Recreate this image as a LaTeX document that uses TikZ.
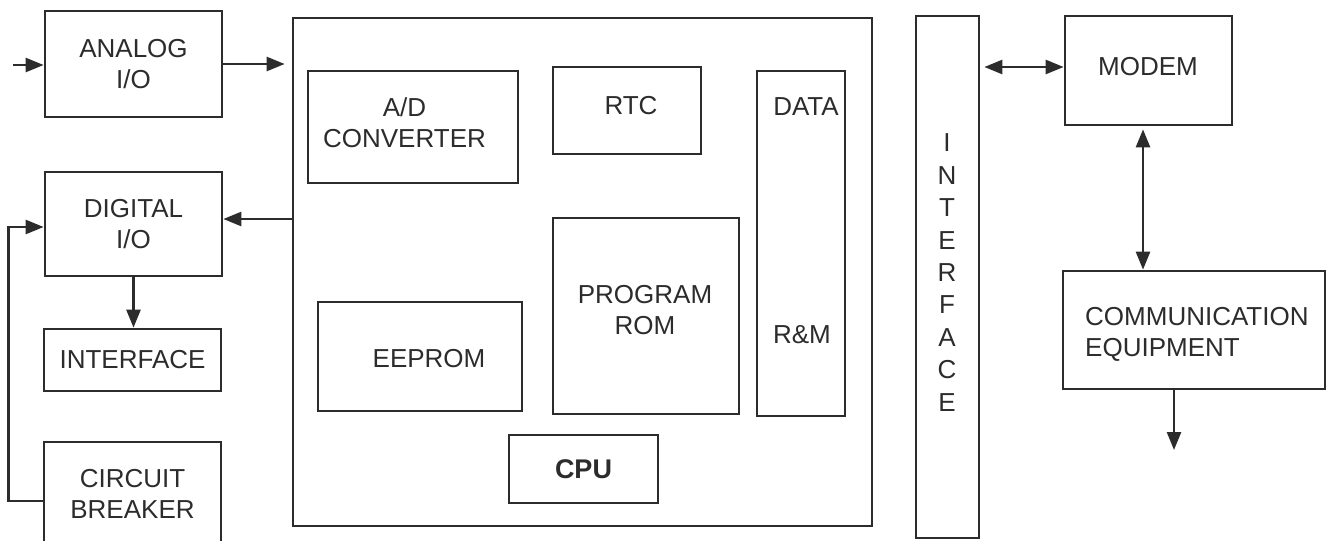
\documentclass[tikz,border=0pt]{standalone}
\usepackage{fontspec}
\setmainfont{Liberation Sans}
\usetikzlibrary{arrows.meta}

\definecolor{ink}{HTML}{2C2C2C}

\tikzset{
  box/.style={draw=ink, line width=2.7pt, inner sep=0pt, align=center,
    text=ink, font=\fontsize{26}{31}\selectfont},
  lbl/.style={inner sep=0pt, align=center, text=ink,
    font=\fontsize{26}{31}\selectfont},
  arr/.style={draw=ink, line width=2.5pt,
    -{Triangle[length=18pt,width=14pt]}},
  darr/.style={draw=ink, line width=2.5pt,
    {Triangle[length=18pt,width=14pt]}-{Triangle[length=18pt,width=14pt]}},
}

\begin{document}
\begin{tikzpicture}[x=1pt, y=-1pt]
\clip (0,0) rectangle (1326,541);
\fill[white] (0,0) rectangle (1326,541);

% ---------- left column: I/O blocks ----------
\node[box, minimum width=177, minimum height=106] (analog) at (133.5,64) {ANALOG\\I/O};
\node[box, minimum width=177, minimum height=104] (digital) at (133.5,224) {DIGITAL\\I/O};
\node[box, minimum width=177, minimum height=62] (iface1) at (132.5,360) {INTERFACE};
\node[box, minimum width=177, minimum height=104] (breaker) at (132.5,494) {CIRCUIT\\BREAKER};

% ---------- relay unit ----------
\node[box, minimum width=579, minimum height=508] (main) at (582.5,272) {};
\node[box, minimum width=210, minimum height=112] (adc) at (413,127) {};
\node[lbl] (adctext) at (404.5,122.5) {A/D\\CONVERTER};
\node[box, minimum width=148, minimum height=87] (rtc) at (627,110.5) {};
\node[lbl] (rtctext) at (631,106) {RTC};
\node[box, minimum width=88, minimum height=345] (data) at (801,243.5) {};
\node[lbl] (datatext) at (806,107) {DATA};
\node[lbl] (rmtext) at (802,335) {R\&M};
\node[box, minimum width=186, minimum height=196] (prom) at (646,316) {};
\node[lbl] (promtext) at (645,310) {PROGRAM\\ROM};
\node[box, minimum width=204, minimum height=109] (eeprom) at (420,356.5) {};
\node[lbl] (eepromtext) at (429,359) {EEPROM};
\node[box, minimum width=149, minimum height=68, font=\fontsize{27}{31}\selectfont\bfseries] (cpu) at (583.5,469) {CPU};

% ---------- communication side ----------
\node[box, minimum width=63, minimum height=522] (iface2) at (947.5,277) {};
\node[lbl, font=\fontsize{26}{32.4}\selectfont] (iface2text) at (947,272.5) {I\\N\\T\\E\\R\\F\\A\\C\\E};
\node[box, minimum width=167, minimum height=109] (modem) at (1148.5,70.5) {};
\node[lbl] (modemtext) at (1148,67) {MODEM};
\node[box, minimum width=262, minimum height=118] (comm) at (1194,330) {};
\node[lbl, anchor=west, align=left] (commtext) at (1085,334) {COMMUNICATION\\EQUIPMENT};

% ---------- connectors ----------
\coordinate (ain) at (13,65);
\draw[arr] (ain) -- (ain -| analog.west);
\draw[arr] (analog.east) -- ([xshift=-7pt]main.west |- analog.east);
\draw[arr] ([yshift=5pt]digital.east -| main.west) -- ([yshift=5pt]digital.east);
\draw[arr] (digital.south) -- (digital.south |- iface1.north);
\draw[arr] ([yshift=-7pt]breaker.west) -- ++(-34,0) |- ([yshift=-3pt]digital.west);

\coordinate (m1) at ([yshift=3.5pt]modem.west);
\coordinate (ie) at (m1 -| iface2.east);
\draw[darr] ([xshift=4pt]ie) -- (m1);
\draw[darr] ([xshift=-5.5pt,yshift=-3pt]modem.south) -- ([xshift=-5.5pt]modem.south |- comm.north);
\coordinate (out) at (1174,450);
\draw[arr] (out |- comm.south) -- (out);
\end{tikzpicture}
\end{document}
